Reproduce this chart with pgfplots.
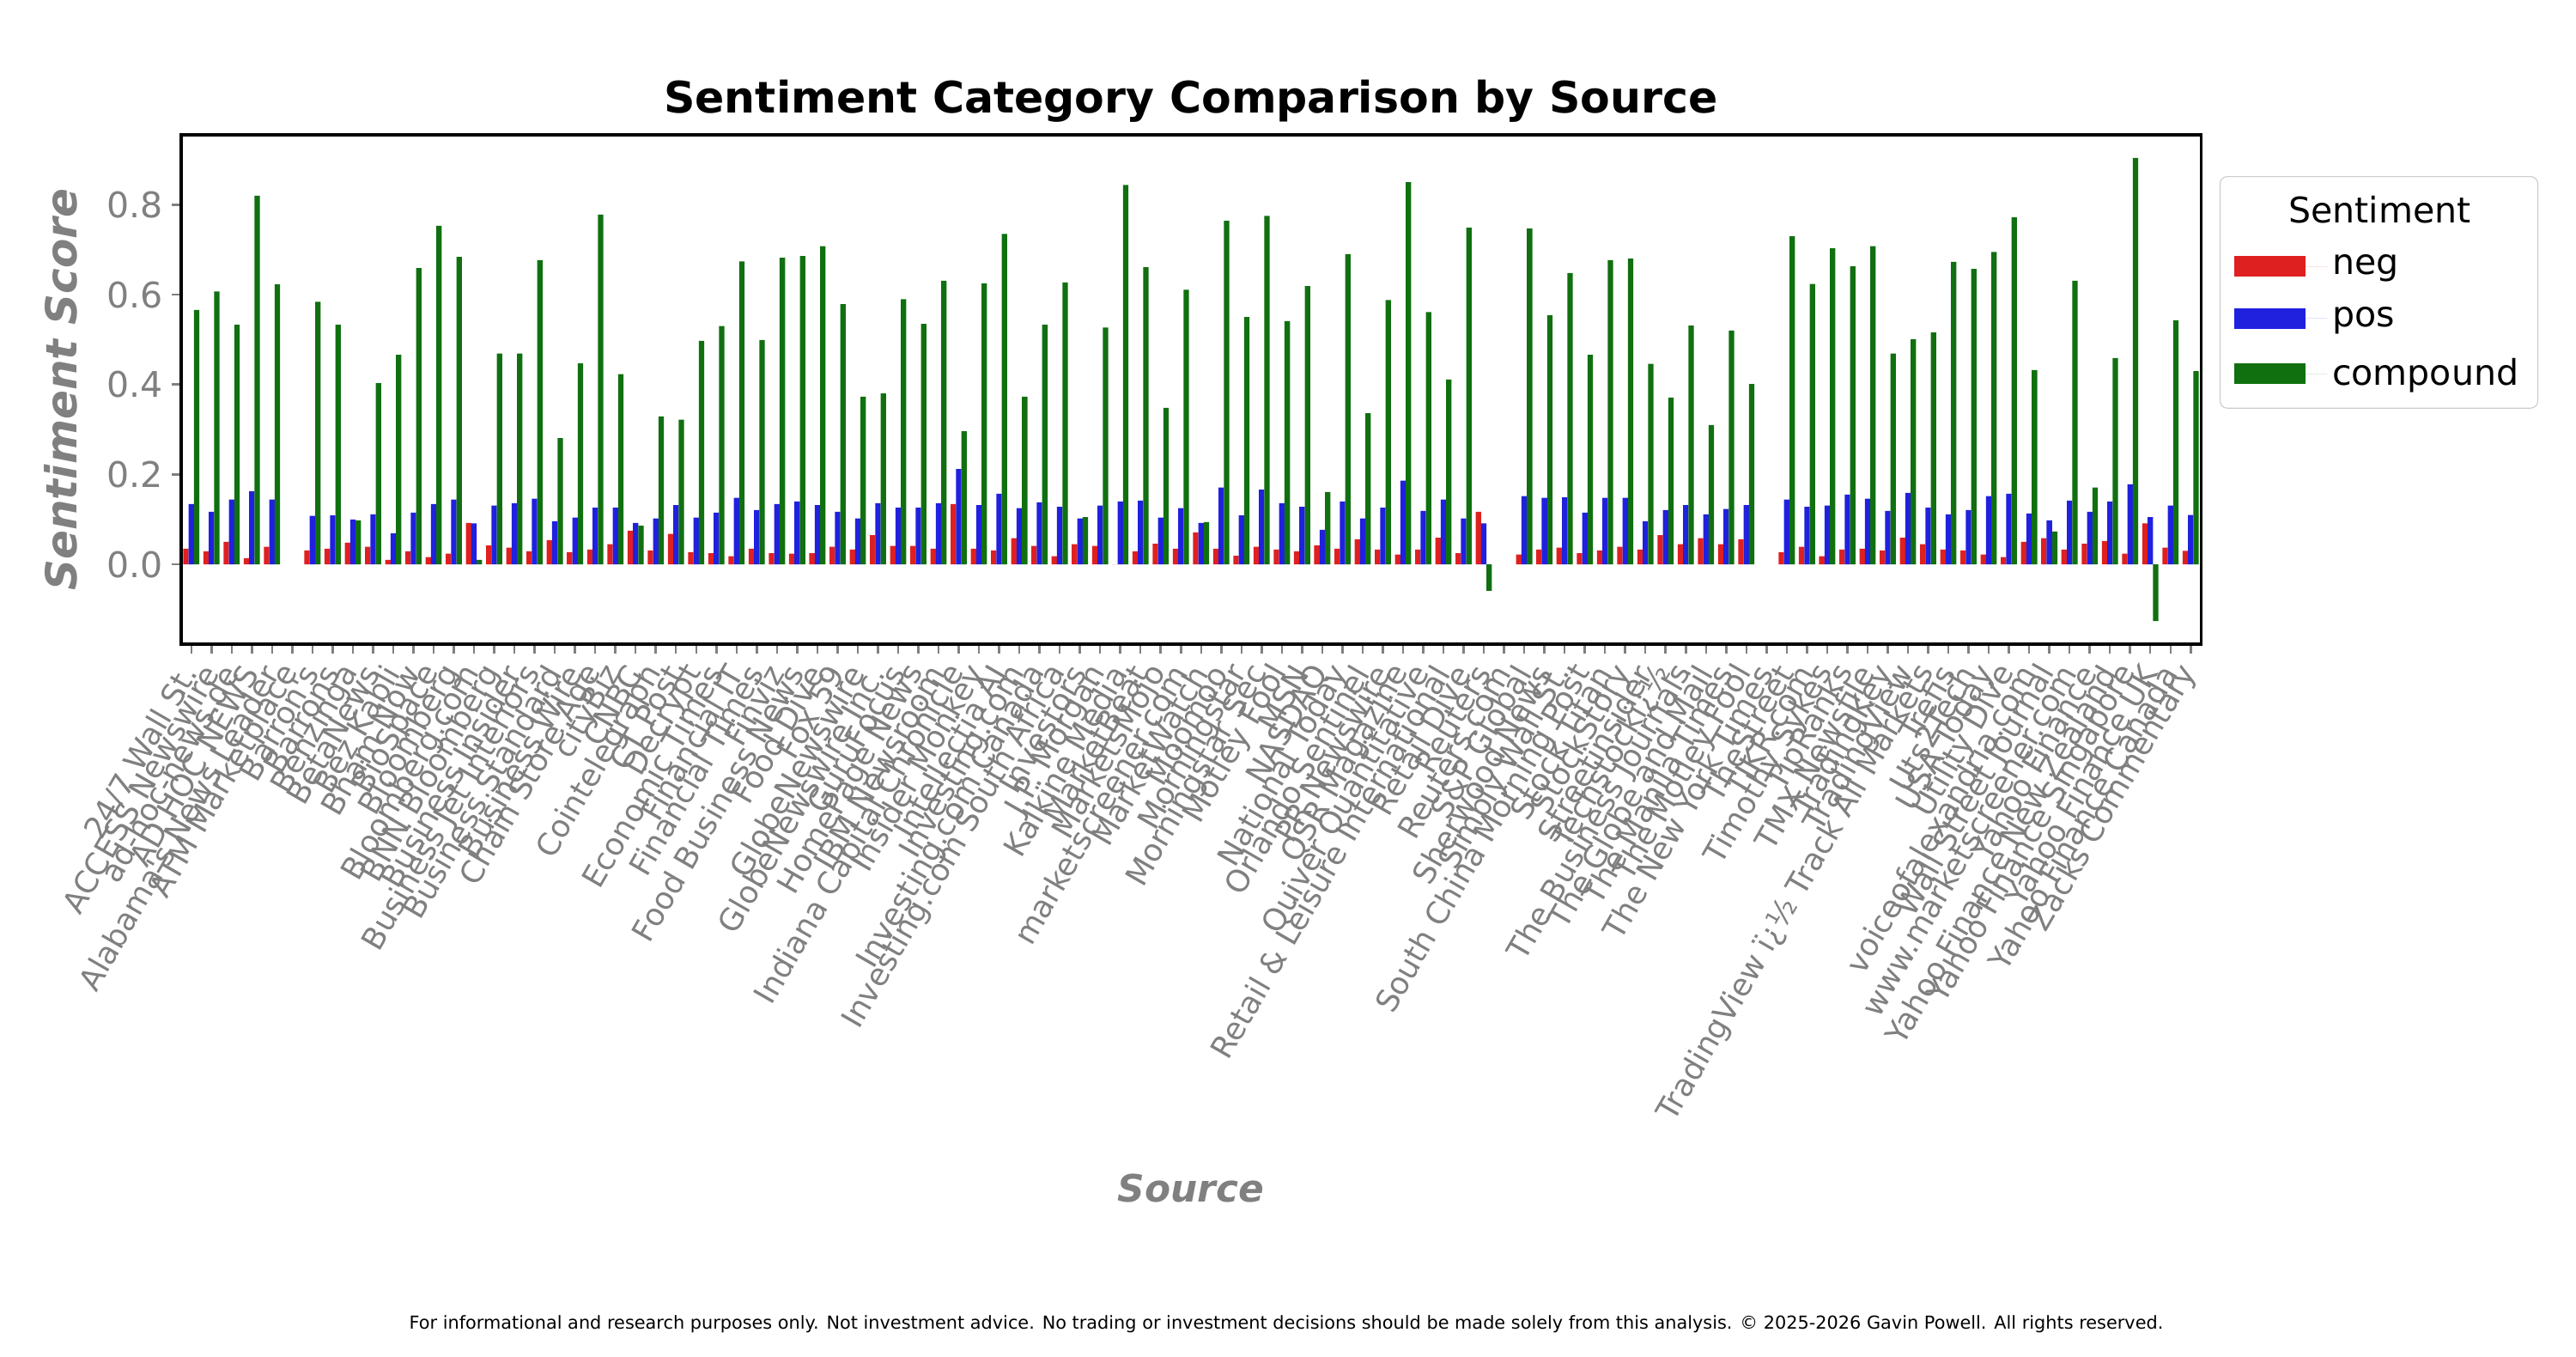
\documentclass[border=0pt]{standalone}
\usepackage{fontspec}
\setmainfont{DejaVu Sans}[Ligatures=TeXOff]
\usepackage{pgfplots}
\usepackage{pgfplotstable}
\pgfplotsset{compat=1.18}
\definecolor{cneg}{RGB}{223,32,32}
\definecolor{cpos}{RGB}{32,32,223}
\definecolor{ccomp}{RGB}{16,112,16}
\definecolor{lblgray}{RGB}{128,128,128}

\pgfplotstableread{
idx neg pos comp
0 0.035 0.134 0.566
1 0.029 0.117 0.607
2 0.050 0.144 0.533
3 0.014 0.163 0.820
4 0.039 0.144 0.623
5 nan nan nan
6 0.031 0.108 0.584
7 0.035 0.109 0.533
8 0.048 0.100 0.098
9 0.039 0.111 0.403
10 0.010 0.069 0.466
11 0.029 0.115 0.659
12 0.016 0.134 0.753
13 0.024 0.144 0.684
14 0.092 0.091 0.010
15 0.042 0.131 0.469
16 0.037 0.136 0.469
17 0.029 0.146 0.677
18 0.054 0.096 0.281
19 0.027 0.104 0.447
20 0.033 0.126 0.778
21 0.045 0.126 0.423
22 0.075 0.092 0.086
23 0.031 0.102 0.329
24 0.068 0.132 0.322
25 0.027 0.104 0.497
26 0.025 0.115 0.530
27 0.018 0.148 0.674
28 0.035 0.121 0.499
29 0.025 0.134 0.682
30 0.024 0.140 0.686
31 0.025 0.132 0.708
32 0.039 0.117 0.579
33 0.033 0.102 0.373
34 0.065 0.136 0.380
35 0.041 0.126 0.590
36 0.041 0.126 0.535
37 0.035 0.136 0.631
38 0.134 0.212 0.296
39 0.035 0.132 0.625
40 0.031 0.157 0.735
41 0.058 0.125 0.373
42 0.041 0.138 0.533
43 0.018 0.128 0.627
44 0.045 0.102 0.105
45 0.041 0.131 0.527
46 0.000 0.140 0.844
47 0.029 0.142 0.661
48 0.046 0.104 0.348
49 0.035 0.125 0.611
50 0.071 0.092 0.094
51 0.035 0.171 0.764
52 0.019 0.109 0.550
53 0.039 0.166 0.775
54 0.033 0.136 0.541
55 0.029 0.128 0.619
56 0.042 0.077 0.161
57 0.035 0.140 0.690
58 0.056 0.102 0.336
59 0.033 0.126 0.588
60 0.022 0.186 0.850
61 0.033 0.119 0.561
62 0.059 0.144 0.411
63 0.025 0.102 0.749
64 0.117 0.091 -0.059
65 nan nan nan
66 0.022 0.152 0.747
67 0.033 0.148 0.554
68 0.037 0.149 0.648
69 0.025 0.115 0.466
70 0.031 0.148 0.677
71 0.039 0.148 0.680
72 0.033 0.096 0.446
73 0.065 0.121 0.371
74 0.045 0.132 0.531
75 0.058 0.111 0.310
76 0.045 0.123 0.520
77 0.056 0.132 0.401
78 nan nan nan
79 0.027 0.144 0.730
80 0.039 0.128 0.624
81 0.018 0.131 0.703
82 0.033 0.155 0.663
83 0.035 0.146 0.708
84 0.031 0.119 0.469
85 0.059 0.159 0.501
86 0.045 0.126 0.516
87 0.033 0.111 0.673
88 0.031 0.121 0.657
89 0.022 0.152 0.695
90 0.016 0.157 0.772
91 0.050 0.113 0.432
92 0.058 0.098 0.073
93 0.033 0.142 0.631
94 0.046 0.117 0.171
95 0.052 0.140 0.459
96 0.024 0.178 0.904
97 0.091 0.105 -0.126
98 0.037 0.131 0.543
99 0.030 0.110 0.430
}\srcdata

\begin{document}
\begin{tikzpicture}
\useasboundingbox (-75.96pt,-298.8pt) rectangle (1004.04pt,270pt);
\begin{axis}[
  scale only axis,
  width=846.72pt, height=213.48pt,
  at={(0pt,0pt)}, anchor=south west,
  xmin=-0.5, xmax=99.5,
  ymin=-0.1775, ymax=0.9555,
  enlargelimits=false,
  ybar=0pt, bar width=0.2667,
  xtick={0,...,99},
  xticklabels={{24/7 Wall St.},{ACCESS Newswire},{ad-hoc-news.de},{AD HOC NEWS},{Alabama's News Leader},{ATM Marketplace},{Barron's},{Barrons},{Benzinga},{BetaNews},{Bez Kabli},{Bham Now},{BioSpace},{Bloomberg},{Bloomberg.com},{BNN Bloomberg},{Business Insider},{Business Jet Interiors},{Business Standard},{Business Wire},{Chain Store Age},{cityBiz},{CNBC},{Cointelegraph},{CT Post},{Decrypt},{Economic Times},{Financial IT},{Financial Times},{Finviz},{Food Business News},{Food Dive},{Fox 59},{GlobeNewswire},{GlobeNewswire Inc.},{GuruFocus},{HomePage News},{IBM Newsroom},{Indiana Capital Chronicle},{Insider Monkey},{Intellectia AI},{Investing.com},{Investing.com Canada},{Investing.com South Africa},{Investors},{J.P. Morgan},{Kalkine Media},{MarketBeat},{MarketsMojo},{marketscreener.com},{MarketWatch},{Moomoo},{Morningstar},{Morningstar Sec},{Motley Fool},{MSN},{NASDAQ},{National Today},{Orlando Sentinel},{PR Newswire},{QSR Magazine},{Quiver Quantitative},{Retail \& Leisure International},{Retail Dive},{Reuters},{Reuters.com},{S\&P Global},{Sherwood News},{Simply Wall St.},{South China Morning Post},{Stock Titan},{StockStory},{Streetinsider},{Techstockï¿½},{The Business Journals},{The Globe and Mail},{The Manila Times},{The Motley Fool},{The New York Times},{TheStreet},{TIKR.com},{Timothy Sykes},{TipRanks},{TMX Newsfile},{TradingKey},{TradingView},{TradingView ï¿½ Track All Markets},{Trefis},{Uts2Tech},{USA Today},{Utility Dive},{voiceofalexandria.com},{Wall Street Journal},{www.marketscreener.com},{Yahoo Finance},{Yahoo Finance New Zealand},{Yahoo Finance Singapore},{Yahoo Finance UK},{Yahoo Finance Canada},{Zacks Commentary}},
  xticklabel shift=5pt,
  xticklabel style={rotate=60, anchor=east, text=lblgray, font=\fontsize{12.9}{15}\selectfont, inner sep=1pt},
  ytick={0,0.2,0.4,0.6,0.8},
  yticklabel style={text=lblgray, font=\fontsize{14.8}{17}\selectfont, /pgf/number format/.cd, fixed, fixed zerofill, precision=1, assume math mode=true},
  xtick pos=bottom, ytick pos=left,
  tick align=outside,
  major tick length=4pt,
  major tick style={lblgray, line width=0.9pt},
  axis line style={black, line width=1.1pt},
  title={Sentiment Category Comparison by Source},
  title style={at={(0.5,1)}, anchor=center, yshift=8.2pt, font=\bfseries\fontsize{18.2}{22}\selectfont},
  ylabel={Sentiment Score},
  ylabel style={at={(-0.0595,0.5)}, anchor=center, text=lblgray, font=\bfseries\itshape\fontsize{18}{21}\selectfont},
  xlabel={Source},
  xlabel style={at={(0.5,-1.0676)}, anchor=center, text=lblgray, font=\bfseries\itshape\fontsize{15.8}{19}\selectfont},
  legend style={at={(1.0093,0.919)}, anchor=north west, draw=black!20, rounded corners=3pt, fill=white,
    font=\fontsize{14.8}{17.8}\selectfont, row sep=8pt, inner xsep=6pt, inner ysep=6pt},
  legend cell align=left,
  legend image code/.code={\fill[#1, sharp corners] (0pt,-4.3pt) rectangle (29.7pt,4.3pt); \path (0pt,0pt) -- (39pt,0pt);},
]
\addlegendimage{empty legend}
\addlegendentry{\hspace*{-18.3pt}Sentiment}
\addplot[fill=cneg, draw=none, bar shift=-0.2667] table[x=idx, y=neg] {\srcdata};
\addlegendentry{neg}
\addplot[fill=cpos, draw=none, bar shift=0] table[x=idx, y=pos] {\srcdata};
\addlegendentry{pos}
\addplot[fill=ccomp, draw=none, bar shift=0.2667] table[x=idx, y=comp] {\srcdata};
\addlegendentry{compound}
\end{axis}
\node[font=\fontsize{7.5}{9}\selectfont, anchor=center] at (463.3pt,-285.1pt) {For informational and research purposes only. Not investment advice. No trading or investment decisions should be made solely from this analysis. © 2025-2026 Gavin Powell. All rights reserved.};
\end{tikzpicture}
\end{document}
